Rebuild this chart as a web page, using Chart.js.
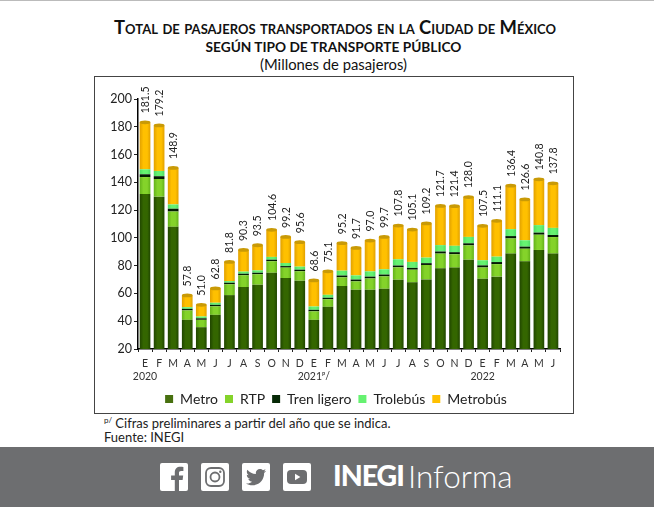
<!DOCTYPE html>
<html lang="es">
<head>
<meta charset="utf-8">
<title>Pasajeros transportados</title>
<script src="https://cdn.jsdelivr.net/npm/chart.js@4"></script>
<style>
    html, body { margin: 0; padding: 0; background: #fff; }
    body { width: 654px; height: 507px; position: relative; overflow: hidden; font-family: Lato, sans-serif; color: #111; }
    .linea-top { position: absolute; left: 0; top: 0; width: 654px; height: 1px; background: #bbb; }
    .titulo { position: absolute; left: 0; text-align: center; white-space: nowrap; }
    .t1 { top: 16px; width: 670px; font-size: 18.4px; font-weight: 700; font-variant: small-caps; }
    .t2 { top: 38px; width: 667px; font-size: 13.7px; font-weight: 700; }
    .t3 { top: 55px; width: 667px; font-size: 14.8px; }
    .marco { position: absolute; left: 94px; top: 76px; width: 478px; height: 336px; border: 1px solid #444; }
    #wrap { position: absolute; left: 94px; top: 76px; width: 479px; height: 337px; }
    .nota { position: absolute; left: 104px; font-size: 13px; white-space: nowrap; color: #222; }
    .nota sup { font-size: 8px; line-height: 0; }
    .pie { position: absolute; left: 0; top: 447px; width: 654px; height: 60px; background: #6d6e70; color: #fff; }
    .pie svg { position: absolute; top: 16px; width: 28px; height: 28px; }
    .inegi { position: absolute; left: 333px; top: 11px; font-size: 28.5px; font-weight: 900; letter-spacing: -1px; }
    .informa { position: absolute; left: 408px; top: 10px; font-size: 31.5px; font-weight: 300; }
</style>
</head>
<body>
<div class="linea-top"></div>
<div class="titulo t1">Total de pasajeros transportados en la Ciudad de México</div>
<div class="titulo t2">SEGÚN TIPO DE TRANSPORTE PÚBLICO</div>
<div class="titulo t3">(Millones de pasajeros)</div>
<div class="marco"></div>
<div id="wrap"><canvas id="chartPasajeros" width="479" height="337"></canvas></div>
<div class="nota" style="top:415px"><sup>p/</sup> Cifras preliminares a partir del año que se indica.</div>
<div class="nota" style="top:429px">Fuente: INEGI</div>
<div class="pie">
    <svg style="left:160px" viewBox="0 0 28 28"><rect width="28" height="28" rx="2" fill="#fff"/><path d="M19 28V17h3.6l.6-4.4H19V10c0-1.300.4-2.100 2.200-2.100h2.200V4c-.4 0-1.700-.2-3.200-.2-3.200 0-5.400 2-5.400 5.500v3.300h-3.700V17h3.700v11z" fill="#6d6e70"/></svg>
    <svg style="left:201px" viewBox="0 0 28 28"><rect width="28" height="28" rx="2" fill="#fff"/><rect x="5" y="5" width="18" height="18" rx="5" fill="none" stroke="#6d6e70" stroke-width="1.800"/><circle cx="14" cy="14" r="4.500" fill="none" stroke="#6d6e70" stroke-width="1.800"/><circle cx="19.300" cy="8.700" r="1.200" fill="#6d6e70"/></svg>
    <svg style="left:242px" viewBox="0 0 28 28"><rect width="28" height="28" rx="2" fill="#fff"/><g transform="translate(4 4) scale(.84)"><path d="M23.954 4.569c-.885.389-1.83.654-2.825.775 1.014-.611 1.794-1.574 2.163-2.723-.951.555-2.005.959-3.127 1.184-.896-.959-2.173-1.559-3.591-1.559-2.717 0-4.92 2.203-4.92 4.917 0 .39.045.765.127 1.124C7.691 8.094 4.066 6.13 1.64 3.161c-.427.722-.666 1.561-.666 2.475 0 1.71.87 3.213 2.188 4.096-.807-.026-1.566-.248-2.228-.616v.061c0 2.385 1.693 4.374 3.946 4.827-.413.111-.849.171-1.296.171-.314 0-.615-.03-.916-.086.631 1.953 2.445 3.377 4.604 3.417-1.68 1.319-3.809 2.105-6.102 2.105-.39 0-.779-.023-1.17-.067 2.189 1.394 4.768 2.209 7.557 2.209 9.054 0 13.999-7.496 13.999-13.986 0-.209 0-.42-.015-.63.961-.689 1.8-1.56 2.46-2.548l-.047-.02z" fill="#6d6e70"/></g></svg>
    <svg style="left:283px" viewBox="0 0 28 28"><rect width="28" height="28" rx="2" fill="#fff"/><rect x="4" y="7" width="20" height="14" rx="4" fill="#6d6e70"/><path d="M12 10.800v6.400l5.400-3.200z" fill="#fff"/></svg>
    <div class="inegi">INEGI</div>
    <div class="informa">Informa</div>
</div>

<script>
const meses = [
    ['E', '2020'], 'F', 'M', 'A', 'M', 'J', 'J', 'A', 'S', 'O', 'N', 'D',
    ['E', '2021ᵖ/'], 'F', 'M', 'A', 'M', 'J', 'J', 'A', 'S', 'O', 'N', 'D',
    ['E', '2022'], 'F', 'M', 'A', 'M', 'J'
];

const etiquetas = ['181.5', '179.2', '148.9', '57.8', '51.0', '62.8', '81.8', '90.3', '93.5', '104.6', '99.2', '95.6',
    '68.6', '75.1', '95.2', '91.7', '97.0', '99.7', '107.8', '105.1', '109.2', '121.7', '121.4', '128.0',
    '107.5', '111.1', '136.4', '126.6', '140.8', '137.8'];

const metro = [131.6, 129.7, 108.0, 41.0, 35.7, 44.6, 58.8, 64.6, 66.3, 74.9, 71.1, 69.2,
    41.0, 50.4, 65.3, 62.7, 62.7, 63.4, 69.9, 68.0, 70.1, 78.1, 78.6, 84.3,
    70.6, 72.1, 88.7, 83.1, 91.3, 88.7];
const rtp = [12.2, 12.7, 11.0, 6.8, 5.3, 6.1, 7.8, 8.5, 7.5, 8.3, 7.5, 6.8,
    6.1, 5.4, 6.3, 6.0, 8.1, 8.9, 8.9, 9.1, 10.4, 10.6, 9.6, 10.3,
    8.1, 9.0, 10.9, 9.1, 11.0, 11.9];
const trenLigero = [2.0, 2.0, 2.0, 1.1, 1.1, 1.1, 1.1, 1.1, 1.1, 1.1, 1.1, 1.1,
    1.1, 1.1, 1.3, 1.3, 1.3, 1.3, 1.3, 1.3, 1.3, 1.5, 1.5, 1.5,
    1.5, 1.5, 1.7, 1.5, 1.5, 1.5];
const trolebus = [3.6, 3.8, 3.1, 1.2, 1.3, 1.5, 1.2, 1.5, 1.7, 2.0, 2.2, 2.2,
    2.4, 2.1, 3.5, 3.0, 3.8, 3.8, 4.5, 4.3, 4.0, 4.6, 4.6, 4.6,
    3.7, 3.9, 5.0, 4.6, 5.4, 5.1];
const metrobus = [33.8, 32.8, 26.3, 8.5, 8.4, 10.3, 13.8, 15.6, 18.1, 19.5, 18.8, 17.6,
    18.8, 16.9, 19.8, 19.8, 22.2, 23.3, 24.3, 23.3, 24.6, 28.2, 28.5, 28.7,
    24.8, 25.8, 31.3, 29.4, 33.0, 32.1];

// sombreado horizontal para dar aspecto de cilindro
function cilindro(oscuro, medio) {
    return (c) => {
        const { chart } = c;
        if (!chart.chartArea) return medio;
        const x = chart.scales.x.getPixelForValue(c.dataIndex);
        const g = chart.ctx.createLinearGradient(x - 5.5, 0, x + 5.5, 0);
        g.addColorStop(0, oscuro);
        g.addColorStop(0.35, medio);
        g.addColorStop(0.7, medio);
        g.addColorStop(1, oscuro);
        return g;
    };
}

function serie(label, data, oscuro, medio) {
    return {
        label: label,
        data: data,
        backgroundColor: cilindro(oscuro, medio),
        borderWidth: 0,
        barPercentage: 0.76,
        categoryPercentage: 1
    };
}

const tapasYEtiquetas = {
    id: 'tapasYEtiquetas',
    // la leyenda va centrada en el marco, no en el area del grafico
    afterLayout(chart) {
        chart.legend.left += 9;
        chart.legend.right += 9;
        chart.legend.top += 3;
        chart.legend.bottom += 3;
    },
    afterDatasetsDraw(chart) {
        const ctx = chart.ctx;
        const ultima = chart.getDatasetMeta(chart.data.datasets.length - 1);
        ultima.data.forEach((bar, i) => {
            ctx.save();
            ctx.fillStyle = '#c99a06';
            ctx.beginPath();
            ctx.ellipse(bar.x, bar.y, bar.width / 2, 1.9, 0, 0, Math.PI * 2);
            ctx.fill();
            ctx.translate(bar.x + 0.5, bar.y - 9);
            ctx.rotate(-Math.PI / 2);
            ctx.fillStyle = '#222';
            ctx.font = '10.5px Lato';
            ctx.textAlign = 'left';
            ctx.textBaseline = 'middle';
            ctx.fillText(etiquetas[i], 0, 0);
            ctx.restore();
        });
    }
};

new Chart(document.getElementById('chartPasajeros').getContext('2d'), {
    type: 'bar',
    data: {
        labels: meses,
        datasets: [
            serie('Metro', metro, '#1f4400', '#346600'),
            serie('RTP', rtp, '#62b01a', '#84d32a'),
            serie('Tren ligero', trenLigero, '#000f00', '#031d03'),
            serie('Trolebús', trolebus, '#4cd964', '#66f271'),
            serie('Metrobús', metrobus, '#e09f00', '#ffc000')
        ]
    },
    options: {
        responsive: false,
        animation: false,
        layout: { padding: { top: 23, right: 13, bottom: 0, left: 0 } },
        plugins: {
            tooltip: { enabled: false },
            legend: {
                position: 'bottom',
                labels: {
                    boxWidth: 8,
                    boxHeight: 8,
                    padding: 7,
                    color: '#222',
                    font: { family: 'Lato', size: 14 },
                    generateLabels: () => [
                        ['Metro', '#47700f'], ['RTP', '#84d32a'], ['Tren ligero', '#062906'],
                        ['Trolebús', '#66f271'], ['Metrobús', '#ffc000']
                    ].map(([text, color]) => ({ text, fillStyle: color, strokeStyle: color, lineWidth: 0, fontColor: '#222' }))
                }
            }
        },
        scales: {
            x: {
                stacked: true,
                afterFit: (s) => { s.height = 33; },
                border: { color: '#000', width: 1.5 },
                grid: { drawOnChartArea: false, drawTicks: true, tickLength: 3, tickColor: '#222', offset: true },
                ticks: {
                    autoSkip: false,
                    maxRotation: 0,
                    padding: 5,
                    color: '#333',
                    font: { family: 'Lato', size: 10.5, lineHeight: 1.25 }
                }
            },
            y: {
                stacked: true,
                min: 20,
                max: 200,
                afterFit: (s) => { s.width = 44; },
                border: { color: '#000', width: 1.5 },
                grid: { drawOnChartArea: false, tickLength: 4, tickColor: '#222' },
                ticks: {
                    stepSize: 20,
                    padding: 2,
                    color: '#222',
                    font: { family: 'Lato', size: 12.5 }
                }
            }
        }
    },
    plugins: [tapasYEtiquetas]
});
</script>
</body>
</html>
